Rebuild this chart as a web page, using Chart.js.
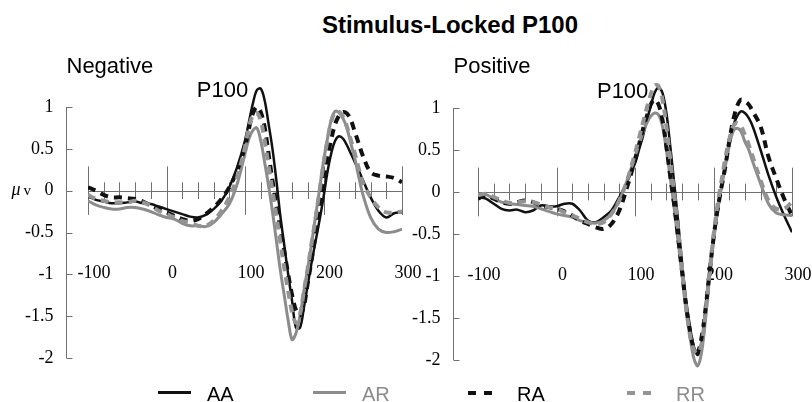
<!DOCTYPE html>
<html>
<head>
  <title>Stimulus-Locked P100</title>
  <script src="https://cdn.jsdelivr.net/npm/chart.js"></script>
  <style>
    body { margin: 0; background: #fff; }
    #wrap { position: relative; width: 812px; height: 402px; overflow: hidden; font-family: "Liberation Sans", Arial, sans-serif; }
    #title { position: absolute; left: 0; width: 900px; top: 13px; line-height: 24px; text-align: center; font-weight: bold; font-size: 24px; color: #000; }
    canvas { position: absolute; top: 0; }
    .key { position: absolute; top: 384px; line-height: 20px; font-size: 20px; }
    .sym { position: absolute; top: 391px; height: 3px; }
    .dash { position: absolute; top: 391px; height: 4px; width: 8px; }
  </style>
</head>
<body>
  <div id="wrap">
    <div id="title">Stimulus-Locked P100</div>
    <canvas id="neg" width="430" height="402" style="left:0"></canvas>
    <canvas id="pos" width="422" height="402" style="left:390px"></canvas>
    <div id="legend"></div>
  </div>
  <script>
    // time points (ms) shared by every trace
    const times = [-100, -90, -80, -70, -60, -50, -40, -30, -20, -10, 0, 10, 20, 30, 40, 50, 60, 70, 80, 90, 100,
      105, 110, 115, 120, 125, 130, 135, 140, 145, 150, 155, 160, 165, 170, 175, 180, 185, 190, 195, 200,
      205, 210, 215, 220, 225, 230, 235, 240, 245, 250, 260, 270, 280, 290, 300];

    // Negative panel
    const negAA = [-0.07, -0.11, -0.13, -0.15, -0.15, -0.14, -0.13, -0.15, -0.16, -0.19, -0.22, -0.25, -0.28, -0.31, -0.32, -0.29, -0.22, -0.12, 0.04, 0.28, 0.6,
      0.82, 1.04, 1.2, 1.22, 1.08, 0.8, 0.5, 0.12, -0.3, -0.65, -1.0, -1.32, -1.64, -1.64, -1.4, -1.12, -0.85, -0.6, -0.35, -0.08,
      0.22, 0.45, 0.6, 0.65, 0.62, 0.54, 0.44, 0.34, 0.24, 0.13, -0.08, -0.24, -0.32, -0.27, -0.26];
    const negAR = [-0.12, -0.17, -0.2, -0.22, -0.22, -0.2, -0.2, -0.22, -0.25, -0.29, -0.32, -0.34, -0.39, -0.42, -0.42, -0.43, -0.38, -0.28, -0.16, 0.08, 0.44,
      0.62, 0.72, 0.75, 0.6, 0.34, 0.06, -0.25, -0.6, -0.95, -1.25, -1.55, -1.78, -1.7, -1.5, -1.2, -0.92, -0.62, -0.3, 0.02, 0.35,
      0.62, 0.85, 0.95, 0.93, 0.86, 0.74, 0.56, 0.38, 0.16, -0.04, -0.32, -0.46, -0.5, -0.49, -0.46];
    const negRA = [0.04, 0.0, -0.05, -0.08, -0.08, -0.09, -0.1, -0.13, -0.18, -0.22, -0.26, -0.3, -0.34, -0.36, -0.34, -0.28, -0.2, -0.1, 0.04, 0.24, 0.52,
      0.74, 0.92, 1.0, 0.94, 0.76, 0.44, 0.12, -0.18, -0.45, -0.72, -1.0, -1.25, -1.43, -1.49, -1.38, -1.1, -0.82, -0.52, -0.22, 0.08,
      0.38, 0.62, 0.8, 0.9, 0.94, 0.92, 0.84, 0.7, 0.56, 0.42, 0.22, 0.18, 0.17, 0.15, 0.1];
    const negRR = [-0.05, -0.1, -0.12, -0.14, -0.14, -0.14, -0.12, -0.14, -0.18, -0.24, -0.28, -0.32, -0.36, -0.38, -0.42, -0.42, -0.36, -0.24, -0.08, 0.16, 0.52,
      0.76, 0.9, 0.93, 0.84, 0.6, 0.3, 0.0, -0.3, -0.62, -0.92, -1.2, -1.45, -1.58, -1.48, -1.2, -0.92, -0.62, -0.32, 0.0, 0.32,
      0.6, 0.83, 0.94, 0.94, 0.88, 0.76, 0.6, 0.44, 0.26, 0.1, -0.08, -0.2, -0.26, -0.26, -0.25];

    // Positive panel
    const posAA = [-0.06, -0.08, -0.14, -0.2, -0.22, -0.21, -0.24, -0.22, -0.16, -0.17, -0.17, -0.14, -0.14, -0.22, -0.34, -0.36, -0.3, -0.22, -0.06, 0.12, 0.34,
      0.5, 0.66, 0.85, 1.02, 1.18, 1.24, 1.18, 0.94, 0.54, 0.1, -0.35, -0.85, -1.28, -1.6, -1.84, -1.94, -1.78, -1.35, -0.92, -0.57,
      -0.25, 0.05, 0.32, 0.56, 0.78, 0.9, 0.96, 0.94, 0.88, 0.78, 0.5, 0.2, -0.06, -0.28, -0.48];
    const posAR = [-0.04, -0.03, -0.08, -0.12, -0.14, -0.15, -0.16, -0.17, -0.2, -0.23, -0.26, -0.28, -0.3, -0.34, -0.36, -0.37, -0.34, -0.26, -0.1, 0.14, 0.42,
      0.56, 0.7, 0.82, 0.9, 0.94, 0.92, 0.78, 0.5, 0.16, -0.2, -0.6, -1.0, -1.4, -1.72, -1.98, -2.07, -1.9, -1.5, -1.02, -0.6,
      -0.24, 0.05, 0.3, 0.55, 0.72, 0.76, 0.72, 0.6, 0.5, 0.36, 0.1, -0.14, -0.25, -0.27, -0.28];
    const posRA = [-0.08, -0.04, -0.08, -0.12, -0.14, -0.12, -0.1, -0.12, -0.16, -0.18, -0.2, -0.23, -0.28, -0.34, -0.38, -0.42, -0.44, -0.38, -0.22, 0.06, 0.38,
      0.56, 0.74, 0.9, 1.04, 1.1, 1.04, 0.86, 0.54, 0.18, -0.16, -0.55, -0.95, -1.35, -1.65, -1.86, -1.9, -1.72, -1.38, -0.95, -0.55,
      -0.22, 0.05, 0.3, 0.6, 0.85, 1.02, 1.1, 1.08, 1.04, 0.96, 0.78, 0.42, 0.16, -0.08, -0.28];
    const posRR = [-0.04, -0.02, -0.06, -0.1, -0.13, -0.12, -0.11, -0.12, -0.15, -0.18, -0.2, -0.24, -0.28, -0.32, -0.36, -0.38, -0.36, -0.26, -0.1, 0.14, 0.46,
      0.64, 0.82, 1.0, 1.16, 1.27, 1.26, 1.1, 0.78, 0.38, -0.02, -0.45, -0.92, -1.36, -1.7, -1.88, -1.92, -1.8, -1.42, -0.95, -0.52,
      -0.16, 0.12, 0.4, 0.62, 0.78, 0.82, 0.78, 0.68, 0.56, 0.42, 0.14, -0.1, -0.2, -0.2, -0.12];

    const yTicks = [-2, -1.5, -1, -0.5, 0, 0.5, 1];
    const yTickLabels = ['-2', '-1.5', '-1', '-0.5', '0', '0.5', '1'];
    const xMajor = [-100, 0, 100, 200, 300];
    const xTickLabels = ['-100', '0', '100', '200', '300'];
    const xMinor = [-80, -60, -40, -20, 20, 40, 60, 80, 120, 140, 160, 180, 220, 240, 260, 280];

    const BLACK = '#111';
    const GREY = '#8c8c8c';
    const GREY_D = '#949494';

    // draws the ERP style axes: y axis on the left, x axis crossing at 0
    const erpAxes = {
      id: 'erpAxes',
      beforeDatasetsDraw(chart, args, opts) {
        const ctx = chart.ctx;
        const x = chart.scales.x, y = chart.scales.y;
        const ax = Math.round(x.getPixelForValue(-100) - opts.gap) + 0.5;
        ctx.save();
        ctx.strokeStyle = '#707070';
        ctx.lineWidth = 1;
        ctx.beginPath();
        ctx.moveTo(ax, y.getPixelForValue(1));
        ctx.lineTo(ax, y.getPixelForValue(-2));
        yTicks.forEach(v => {
          const py = Math.round(y.getPixelForValue(v)) + 0.5;
          ctx.moveTo(ax, py);
          ctx.lineTo(ax + 6, py);
        });
        const y0 = Math.round(y.getPixelForValue(0)) + 0.5;
        ctx.moveTo(x.getPixelForValue(-100), y0);
        ctx.lineTo(x.getPixelForValue(300), y0);
        xMajor.forEach(t => {
          const px = Math.round(x.getPixelForValue(t)) + 0.5;
          ctx.moveTo(px, y.getPixelForValue(0.29));
          ctx.lineTo(px, y.getPixelForValue(-0.29));
        });
        xMinor.forEach(t => {
          const px = Math.round(x.getPixelForValue(t)) + 0.5;
          ctx.moveTo(px, y.getPixelForValue(0.1));
          ctx.lineTo(px, y.getPixelForValue(-0.1));
        });
        ctx.stroke();

        ctx.fillStyle = '#000';
        ctx.font = '18px "Liberation Serif", "Times New Roman", serif';
        ctx.textAlign = 'right';
        ctx.textBaseline = 'middle';
        yTicks.forEach((v, i) => ctx.fillText(yTickLabels[i], ax - 13, y.getPixelForValue(v)));
        ctx.textAlign = 'center';
        xMajor.forEach((t, i) => ctx.fillText(xTickLabels[i], x.getPixelForValue(t) + 6, y.getPixelForValue(-1) - 1));

        if (opts.unit) {
          ctx.textAlign = 'left';
          ctx.font = 'italic 18px "Liberation Serif", serif';
          ctx.fillText('\u03bc', ax - 55, y.getPixelForValue(0));
          ctx.font = '15px "Liberation Serif", serif';
          ctx.fillText('v', ax - 43, y.getPixelForValue(0));
        }

        ctx.font = '22px "Liberation Sans", Arial, sans-serif';
        ctx.textBaseline = 'alphabetic';
        ctx.textAlign = 'left';
        ctx.fillText(opts.label, ax, 73);
        ctx.textAlign = 'right';
        ctx.fillText('P100', x.getPixelForValue(opts.peakT), y.getPixelForValue(1.12));
        ctx.restore();
      }
    };

    function series(vals) {
      return times.map((t, i) => ({ x: t, y: vals[i] }));
    }

    function makePanel(id, label, aa, ar, ra, rr, pad, extra) {
      new Chart(document.getElementById(id), {
        type: 'line',
        data: {
          datasets: [
            { label: 'AA', data: series(aa), borderColor: BLACK, borderWidth: 2.5, order: 4 },
            { label: 'AR', data: series(ar), borderColor: GREY, borderWidth: 3, order: 3 },
            { label: 'RA', data: series(ra), borderColor: BLACK, borderWidth: 4, borderDash: [8, 6], order: 2 },
            { label: 'RR', data: series(rr), borderColor: GREY_D, borderWidth: 4, borderDash: [8, 6], order: 1 }
          ]
        },
        options: {
          responsive: false,
          animation: false,
          devicePixelRatio: 1,
          layout: { padding: pad },
          scales: {
            x: { type: 'linear', min: -100, max: 300, display: false },
            y: { min: -2.4, max: 1.4, display: false }
          },
          elements: {
            point: { radius: 0 },
            line: { tension: 0.35, fill: false }
          },
          plugins: {
            legend: { display: false },
            tooltip: { enabled: false },
            erpAxes: Object.assign({ label: label }, extra)
          }
        },
        plugins: [erpAxes]
      });
    }

    makePanel('neg', 'Negative', negAA, negAR, negRA, negRR,
      { left: 88, right: 28, top: 73.5, bottom: 10.5 }, { gap: 22, peakT: 104, unit: true });
    makePanel('pos', 'Positive', posAA, posAR, posRA, posRR,
      { left: 88, right: 20, top: 74.4, bottom: 8.4 }, { gap: 25, peakT: 117, unit: false });

    // legend below both panels
    const legendItems = [
      { name: 'AA', color: BLACK, dashed: false, x: 158 },
      { name: 'AR', color: GREY, dashed: false, x: 313 },
      { name: 'RA', color: BLACK, dashed: true, x: 468 },
      { name: 'RR', color: GREY_D, dashed: true, x: 627 }
    ];
    const legend = document.getElementById('legend');
    legendItems.forEach(item => {
      if (item.dashed) {
        [0, 16].forEach(dx => {
          const d = document.createElement('div');
          d.className = 'dash';
          d.style.left = (item.x + dx) + 'px';
          d.style.background = item.color;
          legend.appendChild(d);
        });
      } else {
        const s = document.createElement('div');
        s.className = 'sym';
        s.style.left = item.x + 'px';
        s.style.width = '33px';
        s.style.background = item.color;
        legend.appendChild(s);
      }
      const t = document.createElement('div');
      t.className = 'key';
      t.style.left = (item.x + 49) + 'px';
      t.style.color = item.color === BLACK ? '#000' : GREY;
      t.textContent = item.name;
      legend.appendChild(t);
    });
  </script>
</body>
</html>
